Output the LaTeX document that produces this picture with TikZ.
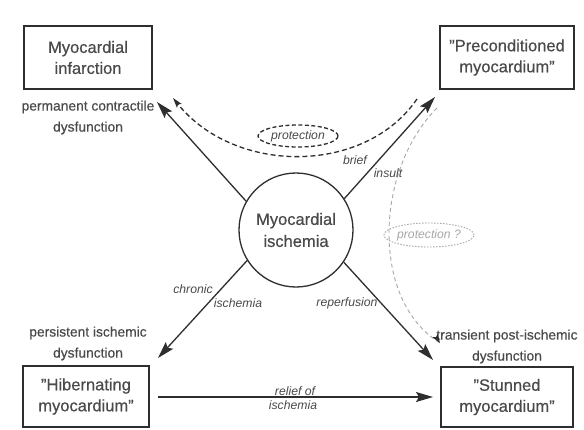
\documentclass[tikz,border=0pt]{standalone}
\usepackage{fontspec}
\setmainfont{Liberation Sans}[BoldFont=Liberation Sans,BoldFeatures={FakeBold=0.45},
  BoldItalicFont=Liberation Sans Italic,BoldItalicFeatures={FakeBold=0.4}]
\usetikzlibrary{arrows.meta,shapes.geometric,calc}
\definecolor{ink}{HTML}{2E2E2E}
\definecolor{soft}{HTML}{4A4A4A}
\definecolor{faint}{HTML}{A8A8A8}
\begin{document}
\begin{tikzpicture}[x=1pt,y=-1pt,
  ink line/.style={draw=ink,line width=1.3pt},
  statebox/.style={draw=ink,line width=1.4pt,rectangle,inner sep=0pt,align=center,
    font=\fontsize{16.5}{21}\selectfont\bfseries,text=soft},
  note/.style={align=center,font=\fontsize{13.8}{21}\selectfont\bfseries,text=soft},
  cue/.style={align=left,font=\fontsize{12.2}{14}\selectfont\itshape,text=soft},
  bigtip/.style={-{Stealth[length=17pt,width=10pt,inset=3pt]}},
  smalltip/.style={-{Stealth[length=10pt,width=6pt,inset=2pt]}}]
\useasboundingbox[fill=white] (0,0) rectangle (584,429);

% central state
\node[circle,draw=ink,line width=1.3pt,minimum size=114pt,inner sep=0pt,align=center,
  font=\fontsize{16.5}{22}\selectfont\bfseries,text=soft] (isch) at (296,230) {Myocardial\\ischemia};

% outcome boxes
\node[statebox,minimum width=128pt,minimum height=63pt] (mi) at (88,57.5) {Myocardial\\infarction};
\node[statebox,minimum width=134pt,minimum height=63pt] (pre) at (507,57.5) {"Preconditioned\\myocardium"};
\node[statebox,minimum width=126pt,minimum height=61pt] (hib) at (86,396.5) {"Hibernating\\myocardium"};
\node[statebox,minimum width=132pt,minimum height=60pt] (stun) at (507,397) {"Stunned\\myocardium"};

% descriptions
\node[note] (miNote) at (88,117.5) {permanent contractile\\dysfunction};
\node[note] (hibNote) at (88,343.5) {persistent ischemic\\dysfunction};
\node[note] (stunNote) at (507,346.5) {transient post-ischemic\\dysfunction};

% arrow tips
\coordinate (miTip) at (157,102);
\coordinate (preTip) at (435,97);
\coordinate (hibTip) at (158,358);
\coordinate (stunTip) at (433,360);
\coordinate (reliefStart) at (158,397);
\coordinate (reliefTip) at (433,397);
\coordinate (protStart) at (417,99);
\coordinate (protTip) at (173,98);
\coordinate (qStart) at (437,108);
\coordinate (qTip) at (440,343);

% main transitions
\draw[ink line,bigtip] (isch.150) -- (miTip);
\draw[ink line,bigtip] (isch.33) -- (preTip);
\draw[ink line,bigtip] (isch.212) -- (hibTip);
\draw[ink line,bigtip] (isch.326) -- (stunTip);
\draw[ink line,bigtip] (reliefStart) -- (reliefTip);

% protection against infarction
\draw[draw=ink,line width=1.3pt,dash pattern=on 5pt off 3pt,smalltip]
  (protStart) .. controls (365,175) and (235,175) .. (protTip);
\node[draw=ink,line width=1.3pt,dash pattern=on 4pt off 2.5pt,ellipse,minimum width=80pt,
  minimum height=22pt,inner sep=0pt,cue] (prot) at (298,136) {protection};

% possible protection against stunning
\draw[draw=faint,line width=0.9pt,dash pattern=on 4pt off 3pt]
  (qStart) .. controls (375,170) and (370,300) .. (qTip);
\draw[draw=ink,line width=0.9pt,-{Stealth[length=9pt,width=6pt,inset=2pt]}]
  ($(qTip)+(-4,-6)$) -- (qTip);
\node[draw=faint,line width=0.9pt,dash pattern=on 1.5pt off 1.5pt,ellipse,minimum width=74pt,
  minimum height=24pt,inner sep=0pt,cue,text=faint] (protQ) at (429,235) {protection ?};

% transition labels
\node[cue] (lBrief) at (355,160) {brief};
\node[cue] (lInsult) at (388,173) {insult};
\node[cue] (lChronic) at (193,289) {chronic};
\node[cue] (lIsch) at (238,303) {ischemia};
\node[cue] (lReperf) at (347,303) {reperfusion};
\node[cue] (lRelief) at (295,391) {relief of};
\node[cue] (lRelief2) at (293,405) {ischemia};
\end{tikzpicture}
\end{document}
